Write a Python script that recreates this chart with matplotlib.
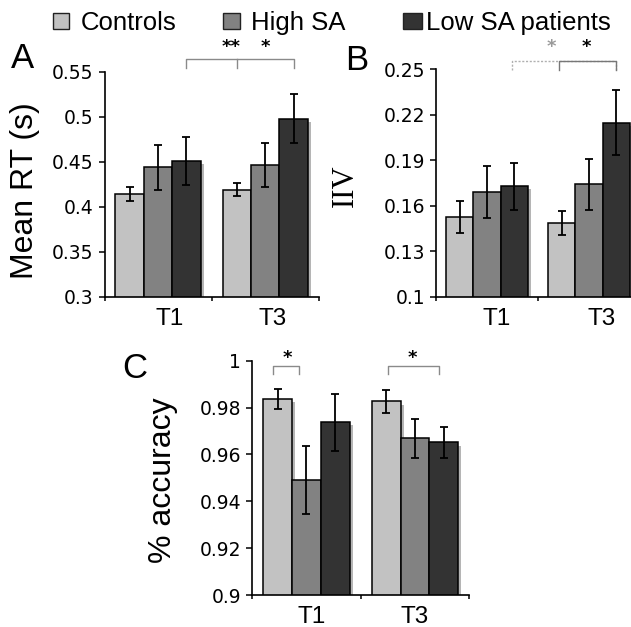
import matplotlib
matplotlib.use("Agg")
import matplotlib.pyplot as plt
import matplotlib.patheffects as pe
from matplotlib.patches import Rectangle
import numpy as np

# data
groups = ["Controls", "High SA", "Low SA patients"]
sessions = ["T1", "T3"]

rt_mean = {"T1": [0.414, 0.444, 0.451], "T3": [0.419, 0.446, 0.498]}
rt_err = {"T1": [0.0075, 0.025, 0.0265], "T3": [0.0075, 0.0245, 0.027]}

iiv_mean = {"T1": [0.1527, 0.169, 0.173], "T3": [0.1486, 0.1743, 0.2148]}
iiv_err = {"T1": [0.0107, 0.0172, 0.0155], "T3": [0.0082, 0.0168, 0.0215]}

acc_mean = {"T1": [0.9837, 0.949, 0.9737], "T3": [0.9826, 0.9668, 0.9651]}
acc_err = {"T1": [0.0042, 0.0144, 0.0122], "T3": [0.0049, 0.0084, 0.0068]}

_COLORS = ["#c2c2c2", "#828282", "#333333"]
_SHADOW = "#b5b5b5"
_BRACKET = "#8a8a8a"
W, H = 631, 627
BAR_W = 0.265


def _px(left, top, right, bottom):
    """axes rect from pixel box (y from top)"""
    return [left / W, 1 - bottom / H, (right - left) / W, (bottom - top) / H]


def _panel(fig, rect, means, errs, ylim, yticks, xlim, label_pos):
    ax = fig.add_axes(rect)
    x = np.arange(len(sessions))
    for gi in range(len(groups)):
        vals = [means[s][gi] for s in sessions]
        err = [errs[s][gi] for s in sessions]
        xpos = x + (gi - 1) * BAR_W
        ax.bar(xpos, vals, BAR_W, color=_COLORS[gi], edgecolor="black", linewidth=1.1,
               path_effects=[pe.SimplePatchShadow(offset=(2.4, -2.2), shadow_rgbFace=_SHADOW, alpha=1), pe.Normal()],
               zorder=2)
        ax.errorbar(xpos, vals, yerr=err, fmt="none", ecolor="black", elinewidth=1.3,
                    capsize=3.0, capthick=1.3, zorder=3)
    ax.set_ylim(*ylim)
    ax.set_xlim(*xlim)
    ax.set_yticks(yticks)
    ax.set_yticklabels([f"{v:g}" for v in yticks], fontfamily="DejaVu Sans", fontsize=13.5)
    ax.set_xticks([-0.5, 0.5, 1.5])
    ax.set_xticklabels([])
    ax.set_xticks(label_pos, minor=True)
    ax.set_xticklabels(sessions, minor=True, fontfamily="Liberation Sans", fontsize=17.5)
    ax.tick_params(axis="x", which="minor", length=0, pad=8)
    ax.tick_params(axis="x", which="major", length=3, width=1.1, direction="out")
    ax.tick_params(axis="y", length=4, width=1.1, direction="out", pad=4)
    ax.spines["top"].set_visible(False)
    ax.spines["right"].set_visible(False)
    ax.spines["left"].set_linewidth(1.2)
    ax.spines["bottom"].set_linewidth(1.2)
    return ax


def _bracket(ax, x0, x1, y, drop, color=_BRACKET, ls="-", mid=None):
    ax.plot([x0, x0, x1, x1], [y - drop, y, y, y - drop], color=color, lw=1.0, ls=ls,
            clip_on=False, zorder=4)
    if mid is not None:
        ax.plot([mid, mid], [y, y - drop], color=color, lw=1.0, ls=ls, clip_on=False, zorder=4)


def _star(ax, x, y, txt, color="black"):
    ax.text(x, y, txt, ha="center", va="center", fontsize=13, color=color,
            fontfamily="DejaVu Sans", fontweight="bold", clip_on=False)


fig = plt.figure(figsize=(W / 100, H / 100), dpi=100, facecolor="white")

# panel A
axA = _panel(fig, _px(104.5, 71.7, 318.75, 296.7), rt_mean, rt_err, (0.3, 0.55),
             [0.3, 0.35, 0.4, 0.45, 0.5, 0.55], (-0.5, 1.5), [0.11, 1.07])
_bracket(axA, 0.265, 1.265, 0.5638, 0.0098, mid=0.735)
_star(axA, 0.68, 0.5775, "**")
_star(axA, 1.0, 0.5775, "*")

# panel B (runs off the right edge)
axB = _panel(fig, _px(436, 69.3, 640, 296.7), iiv_mean, iiv_err, (0.1, 0.25),
             [0.1, 0.13, 0.16, 0.19, 0.22, 0.25], (-0.5, 1.5), [0.09, 1.12])
_bracket(axB, 0.242, 1.26, 0.2557, 0.0062, color="#b0b0b0", ls=(0, (1.5, 1.2)))
_bracket(axB, 0.706, 1.26, 0.2557, 0.0062, color="#777777")
_star(axB, 0.634, 0.2645, "*", color="#9a9a9a")
_star(axB, 0.977, 0.2645, "*")

# panel C
axC = _panel(fig, _px(252, 360.7, 469.3, 595), acc_mean, acc_err, (0.9, 1.0),
             [0.9, 0.92, 0.94, 0.96, 0.98, 1.0], (-0.5, 1.5), [0.05, 1.0])
_bracket(axC, -0.306, -0.066, 0.9979, 0.0036)
_bracket(axC, 0.749, 1.224, 0.9979, 0.0036)
_star(axC, -0.17, 1.0011, "*")
_star(axC, 0.98, 1.0011, "*")

# panel letters and y labels
for letter, (lx, ly) in {"A": (11, 42), "B": (345, 44), "C": (122, 352)}.items():
    fig.text(lx / W, 1 - ly / H, letter, ha="left", va="top", fontsize=25, fontfamily="Liberation Sans")
fig.text(25 / W, 1 - 191 / H, "Mean RT (s)", rotation=90, ha="center", va="center",
         fontsize=23, fontfamily="Liberation Sans")
fig.text(345 / W, 1 - 186 / H, "IIV", rotation=90, ha="center", va="center",
         fontsize=22, fontfamily="Liberation Serif")
fig.text(163 / W, 1 - 480 / H, "% accuracy", rotation=90, ha="center", va="center",
         fontsize=23, fontfamily="Liberation Sans")

# legend along the top
legend_sq = [(53.3, 69.3), (222.7, 240), (403, 421.7)]
legend_tx = [80.7, 251, 426]
for gi, name in enumerate(groups):
    x0, x1 = legend_sq[gi]
    fig.add_artist(Rectangle((x0 / W, 1 - 29.3 / H), (x1 - x0) / W, 16.6 / H,
                             transform=fig.transFigure, facecolor=_COLORS[gi],
                             edgecolor="#222222", linewidth=1.0))
    fig.text(legend_tx[gi] / W, 1 - 30 / H, name, ha="left", va="baseline",
             fontsize=18.5, fontfamily="Liberation Sans")

fig.savefig("out.png", dpi=100, facecolor="white")
